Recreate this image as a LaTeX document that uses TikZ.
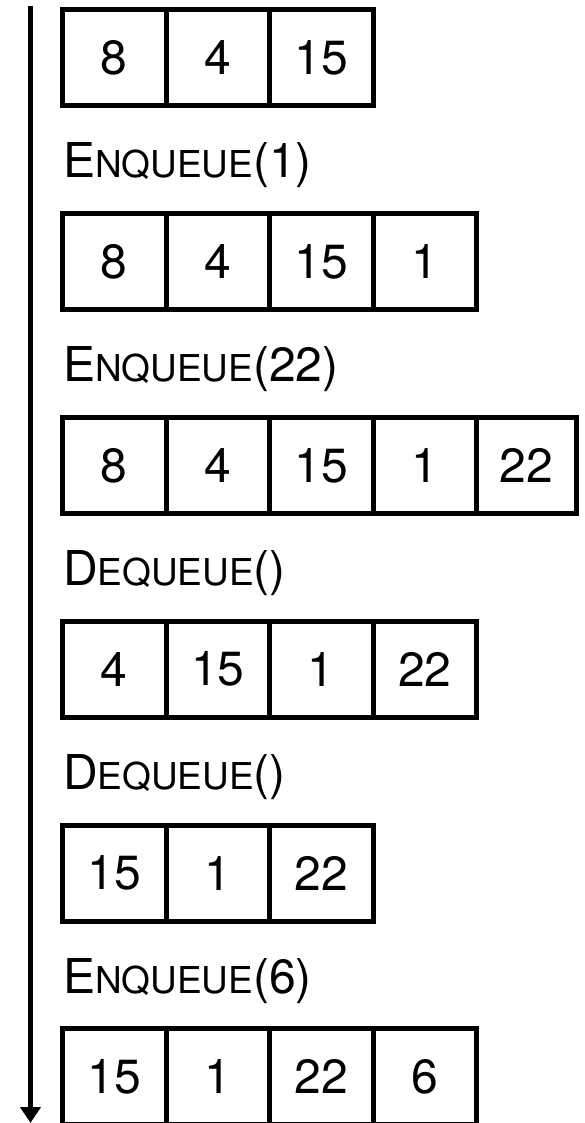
\documentclass[tikz,border=0pt]{standalone}
\usepackage{fontspec}
\setmainfont{TeX Gyre Heros}
\usetikzlibrary{arrows.meta}
\newcommand{\smc}[1]{{\fontsize{37}{40}\selectfont #1}}
\tikzset{
  cell/.style={draw, line width=5pt, minimum width=103.5pt, minimum height=96pt,
    inner sep=0pt, outer sep=0pt, font=\fontsize{48}{50}\selectfont},
  oplabel/.style={anchor=base west, inner sep=0pt, outer sep=0pt, font=\fontsize{48}{50}\selectfont},
  timeline/.style={line width=5pt, -{Triangle[width=20pt,length=16pt]}}
}
\begin{document}
\begin{tikzpicture}[x=1pt,y=-1pt]
\useasboundingbox (0,0) rectangle (584,1123);
% time arrow
\coordinate (atop) at (30.5,6);
\coordinate (abot) at (30.5,1123);
\draw[timeline] (atop) -- (abot);
% row 1
\node[cell] (r1a) at (114.25,57.8) {8};
\node[cell] (r1b) at (217.75,57.8) {4};
\node[cell] (r1c) at (321.25,57.8) {15};
\node[oplabel] (l1) at (63,178) {E\smc{NQUEUE}(1)};
% row 2
\node[cell] (r2a) at (114.25,261.6) {8};
\node[cell] (r2b) at (217.75,261.6) {4};
\node[cell] (r2c) at (321.25,261.6) {15};
\node[cell] (r2d) at (424.75,261.6) {1};
\node[oplabel] (l2) at (63,381.8) {E\smc{NQUEUE}(22)};
% row 3
\node[cell] (r3a) at (114.25,465.4) {8};
\node[cell] (r3b) at (217.75,465.4) {4};
\node[cell] (r3c) at (321.25,465.4) {15};
\node[cell] (r3d) at (424.75,465.4) {1};
\node[cell, minimum width=99.5pt] (r3e) at (526.25,465.4) {22};
\node[oplabel] (l3) at (63,585.6) {D\smc{EQUEUE}()};
% row 4
\node[cell] (r4a) at (114.25,669.2) {4};
\node[cell] (r4b) at (217.75,669.2) {15};
\node[cell] (r4c) at (321.25,669.2) {1};
\node[cell] (r4d) at (424.75,669.2) {22};
\node[oplabel] (l4) at (63,789.4) {D\smc{EQUEUE}()};
% row 5
\node[cell] (r5a) at (114.25,873) {15};
\node[cell] (r5b) at (217.75,873) {1};
\node[cell] (r5c) at (321.25,873) {22};
\node[oplabel] (l5) at (63,993.2) {E\smc{NQUEUE}(6)};
% row 6
\node[cell] (r6a) at (114.25,1076.8) {15};
\node[cell] (r6b) at (217.75,1076.8) {1};
\node[cell] (r6c) at (321.25,1076.8) {22};
\node[cell] (r6d) at (424.75,1076.8) {6};
\end{tikzpicture}
\end{document}
